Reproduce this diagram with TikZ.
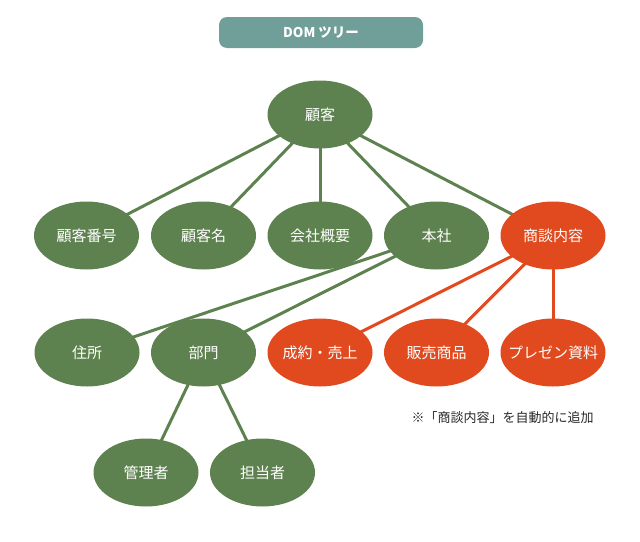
\documentclass[tikz,border=0pt]{standalone}
\usepackage{fontspec}
\setmainfont{Noto Sans CJK JP}
\usetikzlibrary{shapes.geometric,backgrounds}
\definecolor{gn}{RGB}{94,130,79}
\definecolor{og}{RGB}{224,74,30}
\definecolor{tl}{RGB}{112,158,152}
\definecolor{nt}{RGB}{40,40,40}
\newcommand{\lbl}[1]{\makebox[0pt][c]{#1}}
\tikzset{
  gnode/.style={ellipse, fill=gn, text=white, minimum width=105pt, minimum height=68pt, inner sep=0pt, font=\fontsize{15}{18}\selectfont},
  onode/.style={gnode, fill=og},
  gedge/.style={draw=gn, line width=3pt},
  oedge/.style={draw=og, line width=3pt},
  titlebox/.style={rectangle, rounded corners=8pt, fill=tl, text=white, minimum width=204pt, minimum height=31pt, inner sep=0pt, font=\bfseries\fontsize{13.5}{16}\selectfont},
  note/.style={text=nt, inner sep=0pt, font=\fontsize{13}{15}\selectfont}
}
\begin{document}
\begin{tikzpicture}[x=1pt, y=-1pt]
\useasboundingbox (0,0) rectangle (640,541);
\node[titlebox] (title) at (321,32.5) {DOM ツリー};
% nodes
\node[gnode] (root) at (320,114.5) {\lbl{顧客}};
\node[gnode] (bango) at (86.5,235.5) {\lbl{顧客番号}};
\node[gnode] (mei) at (203.5,235.5) {\lbl{顧客名}};
\node[gnode] (gaiyo) at (320,235.5) {\lbl{会社概要}};
\node[gnode] (honsha) at (436.5,235.5) {\lbl{本社}};
\node[onode] (shodan) at (553,235.5) {\lbl{商談内容}};
\node[gnode] (jusho) at (87,352.5) {\lbl{住所}};
\node[gnode] (bumon) at (203.5,352.5) {\lbl{部門}};
\node[onode] (seiyaku) at (320,352.5) {\lbl{成約・売上}};
\node[onode] (hanbai) at (436.5,352.5) {\lbl{販売商品}};
\node[onode] (pres) at (553,352.5) {\lbl{プレゼン資料}};
\node[gnode] (kanri) at (146,472.5) {\lbl{管理者}};
\node[gnode] (tanto) at (262.5,472.5) {\lbl{担当者}};
\node[note] (memo) at (502.5,418) {※「商談内容」を自動的に追加};
% edges
\begin{scope}[on background layer]
\draw[gedge] (root.center) -- (bango.center);
\draw[gedge] (root.center) -- (mei.center);
\draw[gedge] (root.center) -- (gaiyo.center);
\draw[gedge] (root.center) -- (honsha.center);
\draw[gedge] (root.center) -- (shodan.center);
\draw[gedge] (honsha.center) -- (jusho.center);
\draw[gedge] (honsha.center) -- (bumon.center);
\draw[gedge] (bumon.center) -- (kanri.center);
\draw[gedge] (bumon.center) -- (tanto.center);
\draw[oedge] (shodan.center) -- (seiyaku.center);
\draw[oedge] (shodan.center) -- (hanbai.center);
\draw[oedge] (shodan.center) -- (pres.center);
\end{scope}
\end{tikzpicture}
\end{document}
